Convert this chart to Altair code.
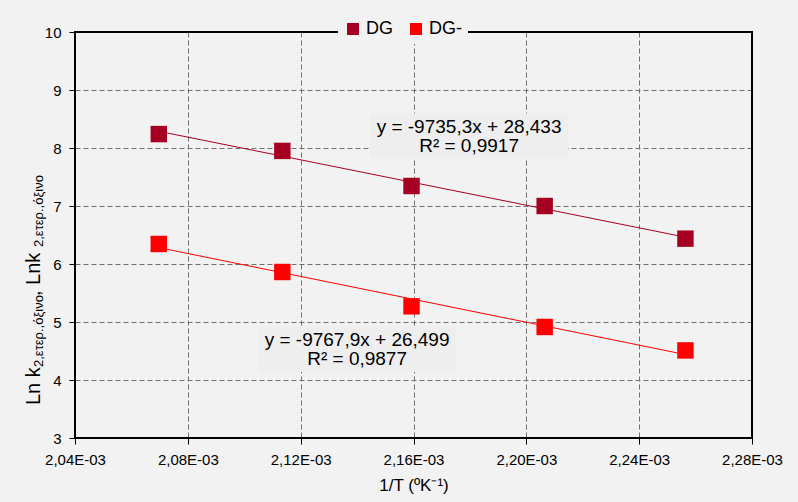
import altair as alt
import pandas as pd

# ---- data ----
inv_T = [0.0020697, 0.0021135, 0.0021593, 0.0022065, 0.0022564]
dg_vals = [8.24, 7.95, 7.345, 7.00, 6.437]
dgm_vals = [6.345, 5.862, 5.27, 4.914, 4.51]
series_names = ["DG", "DG-"]
series_colors = ["#a50021", "#ff0000"]

x_ticks = [0.00204, 0.00208, 0.00212, 0.00216, 0.00220, 0.00224, 0.00228]
y_ticks = [3, 4, 5, 6, 7, 8, 9, 10]

ann_x = [0.0021797, 0.00214]
ann_y = [8.207, 4.526]
ann_text = ["y = -9735,3x + 28,433\nR² = 0,9917", "y = -9767,9x + 26,499\nR² = 0,9877"]

rows = []
for xv, yv in zip(inv_T, dg_vals):
    rows.append({"x": xv, "y": yv, "s": series_names[0]})
for xv, yv in zip(inv_T, dgm_vals):
    rows.append({"x": xv, "y": yv, "s": series_names[1]})
df = pd.DataFrame(rows)
ann = pd.DataFrame({"x": ann_x, "y": ann_y, "t": ann_text})

FONT = "Liberation Sans"

xscale = alt.Scale(domain=[x_ticks[0], x_ticks[-1]], nice=False, zero=False)
yscale = alt.Scale(domain=[y_ticks[0], y_ticks[-1]], nice=False, zero=False)
cscale = alt.Scale(domain=series_names, range=series_colors)

xaxis = alt.Axis(
    values=x_ticks,
    labelExpr="replace(format(datum.value * 1000, '.2f'), '.', ',') + 'E-03'",
    title="1/T (ºK⁻¹)",
    titleFont=FONT, titleFontSize=17, titleFontWeight="normal", titleColor="#000000", titlePadding=10,
    labelFont=FONT, labelFontSize=15, labelColor="#000000", labelPadding=8,
    tickSize=6, tickColor="#000000", domain=False,
    grid=True, gridDash=[5, 3], gridColor="#707070", gridWidth=1,
    labelFlush=False,
)
yaxis = alt.Axis(
    values=y_ticks, title=None, format="d",
    labelFont=FONT, labelFontSize=15, labelColor="#000000", labelPadding=8,
    tickSize=6, tickColor="#000000", domain=False,
    grid=True, gridDash=[5, 3], gridColor="#707070", gridWidth=1,
)

legend = alt.Legend(
    title=None, orient="none", direction="horizontal",
    legendX=263, legendY=-18,
    symbolType="square", symbolSize=144, symbolStrokeWidth=0, symbolOpacity=1,
    labelFont=FONT, labelFontSize=18, labelColor="#000000", labelOffset=4,
    columnPadding=14, padding=6, fillColor="#f2f2f2",
)

base = alt.Chart(df)

trend = base.transform_regression("x", "y", groupby=["s"]).mark_line(strokeWidth=1).encode(
    x=alt.X("x:Q", scale=xscale, axis=xaxis),
    y=alt.Y("y:Q", scale=yscale, axis=yaxis),
    color=alt.Color("s:N", scale=cscale, legend=legend),
)

points = base.mark_square(size=270, filled=True, opacity=1).encode(
    x=alt.X("x:Q", scale=xscale),
    y=alt.Y("y:Q", scale=yscale),
    color=alt.Color("s:N", scale=cscale, legend=legend),
)

box_shape = "M-1,-0.227L1,-0.227L1,0.227L-1,0.227Z"
boxes = alt.Chart(ann).mark_point(
    shape=box_shape, size=198 * 198, filled=True, fill="#eeeeee", opacity=1, strokeWidth=0
).encode(x=alt.X("x:Q", scale=xscale), y=alt.Y("y:Q", scale=yscale))

labels = alt.Chart(ann).mark_text(
    fontSize=19, font=FONT, color="#000000", lineBreak="\n", lineHeight=19,
    align="center", baseline="middle", dy=-9,
).encode(x=alt.X("x:Q", scale=xscale), y=alt.Y("y:Q", scale=yscale), text="t:N")

# plot frame drawn above the grid
frame = alt.Chart(alt.Data(values=[{}])).mark_rect(
    fillOpacity=0, stroke="#000000", strokeWidth=2
).encode(x=alt.value(0), x2=alt.value("width"), y=alt.value(0), y2=alt.value("height"))


def title_piece(txt, size, xpix, ypix):
    return alt.Chart(alt.Data(values=[{"t": txt}])).mark_text(
        fontSize=size, font=FONT, color="#000000", angle=270,
        align="left", baseline="alphabetic",
    ).encode(text="t:N", x=alt.value(xpix), y=alt.value(ypix))


ytitle = [
    title_piece("Ln k", 20, -35, 373),
    title_piece("2,ετερ.,όξινο", 13, -32, 335),
    title_piece("\u00a0,\u00a0Lnk", 20, -35, 264),
    title_piece("2,ετερ.,όξινο", 13, -32, 215),
]

chart = alt.layer(boxes, trend, points, labels, frame, *ytitle).properties(
    width=677, height=406,
    background="#f2f2f2",
    padding={"left": 75, "top": 32, "right": 46, "bottom": 64},
    autosize=alt.AutoSizeParams(type="none"),
).configure_view(
    fill="#fcf0db", stroke=None,
).configure(font=FONT)

chart.save("out.html", embed_options={"renderer": "svg", "actions": False})
